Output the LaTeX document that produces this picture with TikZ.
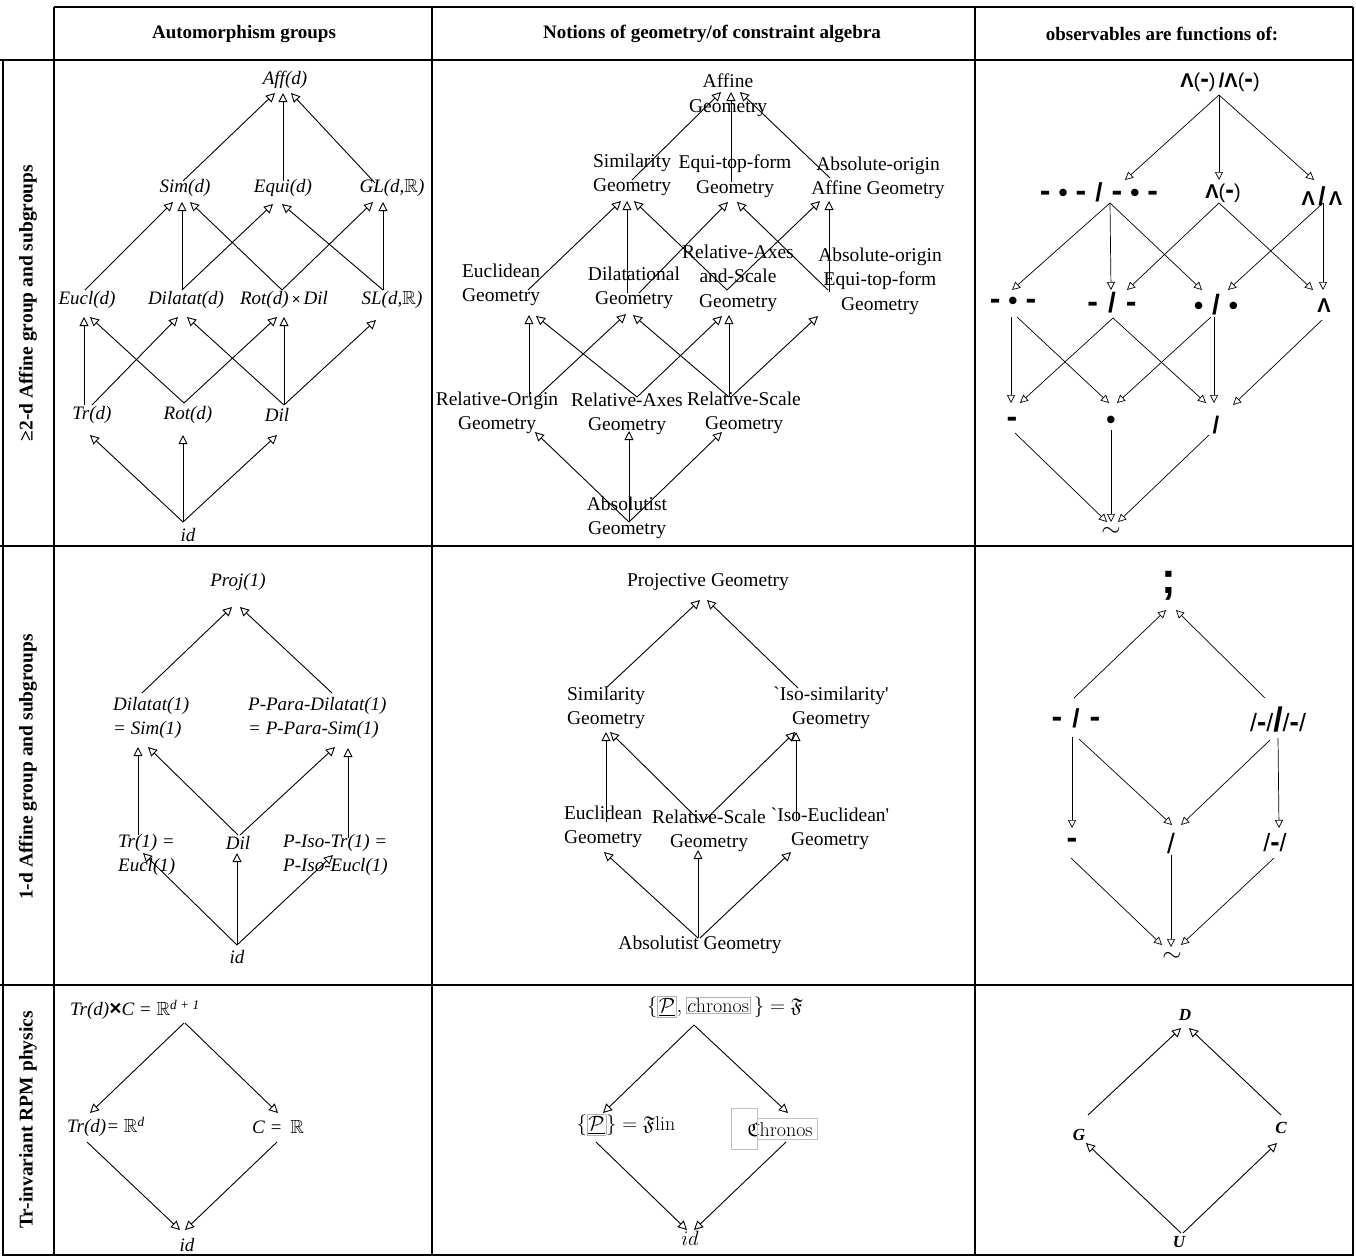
\documentclass[tikz,border=0pt]{standalone}
\usepackage{amssymb}
\usepackage{fontspec}
\setmainfont{Liberation Serif}
\newfontfamily\obsf{Liberation Sans}
\usetikzlibrary{arrows.meta}
\newcommand\ed[5][arr]{\draw[#1] ([shift={(#3)}]#2) -- ([shift={(#5)}]#4);}
\newcommand\lmfont{\fontfamily{lmr}\selectfont}
\newcommand\gbox[1]{{\setlength\fboxsep{1pt}\setlength\fboxrule{0.5pt}\fcolorbox{black!30}{white}{#1}}}
\newcommand\og[1][8]{\hspace{#1pt}}
\newcommand\bsl[1]{{\fontsize{#1}{#1}\selectfont/}}
\newcommand\hy[1][32]{{\fontsize{#1}{#1}\selectfont -}}
\newcommand\bu{{\fontsize{26}{26}\selectfont •}}
\begin{document}
\begin{tikzpicture}[x=1pt,y=-1pt,
  bord/.style={line width=2pt},
  arr/.style={-{Triangle[open,length=9pt,width=9pt]},line width=0.9pt},
  arrs/.style={-{Triangle[open,length=8pt,width=8pt]},line width=0.7pt},
  lab/.style={inner sep=0pt,font=\fontsize{19.5}{24.5}\selectfont,align=center},
  it/.style={inner sep=0pt,font=\itshape\fontsize{19}{24}\selectfont,align=center},
  itl/.style={it,anchor=west,align=left},
  ob/.style={inner sep=0pt,font=\obsf\bfseries\fontsize{20}{24}\selectfont},
  hdr/.style={inner sep=0pt,font=\bfseries\fontsize{19}{22}\selectfont},
  side/.style={inner sep=0pt,rotate=90,font=\bfseries\fontsize{19.5}{22}\selectfont},
  lm/.style={inner sep=0pt,font=\lmfont\fontsize{20}{24}\selectfont},
  gcu/.style={inner sep=0pt,font=\bfseries\itshape\fontsize{17}{20}\selectfont},
  tl/.style={inner sep=0pt,font=\fontsize{24}{24}\selectfont}]
\useasboundingbox (0,0) rectangle (1356,1258);
% ---------- table grid ----------
\draw[bord] (54,7) -- (1353,7);
\draw[bord] (0,60) -- (1353,60);
\draw[bord] (0,546) -- (1353,546);
\draw[bord] (0,985) -- (1353,985);
\draw[bord] (3,1255) -- (1353,1255);
\draw[bord] (3,60) -- (3,1256);
\draw[bord] (54,7) -- (54,1256);
\draw[bord] (432,7) -- (432,1256);
\draw[bord] (975,7) -- (975,1256);
\draw[bord] (1353,7) -- (1353,1256);
% ---------- headers ----------
\node[hdr] (h1) at (244,34) {Automorphism groups};
\node[hdr] (h2) at (712,34) {Notions of geometry/of constraint algebra};
\node[hdr] (h3) at (1162,34) {observables are functions of:};
\node[side] (r1) at (28,303) {≥2-d Affine group and subgroups};
\node[side] (r2) at (28,767) {1-d Affine group and subgroups};
\node[side] (r3) at (28,1120) {Tr-invariant RPM physics};
% ---------- row 1, column 1 ----------
\node[it] (aff) at (285,80) {Aff(d)};
\node[it] (sim) at (185,188) {Sim(d)};
\node[it] (equi) at (283,188) {Equi(d)};
\node[it] (gl) at (392,188) {GL(d,$\mathbb{R}$)};
\node[it] (eucl) at (87,300) {Eucl(d)};
\node[it] (dila) at (186,300) {Dilatat(d)};
\node[it] (rotdil) at (284,300) {Rot(d)\,{\obsf\upshape\fontsize{15}{15}\selectfont ×}\,Dil};
\node[it] (sl) at (392,300) {SL(d,$\mathbb{R}$)};
\node[it] (tr) at (92,415) {Tr(d)};
\node[it] (rot) at (188,415) {Rot(d)};
\node[it] (dil) at (277,415) {Dil};
\node[it] (id) at (188,535) {id};
\ed{sim.center}{-2,-7}{aff.center}{-10,13}
\ed{equi.center}{0,-7}{aff.center}{-2,13}
\ed{gl.center}{-17,-5}{aff.center}{6,13}
\ed{eucl.center}{-2,-10}{sim.center}{-12,14}
\ed{dila.center}{-4,-10}{sim.center}{-3,14}
\ed{rotdil.center}{-2,-10}{sim.center}{5,14}
\ed{dila.center}{-4,-10}{equi.center}{-10,16}
\ed{rotdil.center}{-2,-10}{gl.center}{-19,14}
\ed{sl.center}{-9,-10}{equi.center}{-1,16}
\ed{sl.center}{-9,-10}{gl.center}{-9,14}
\ed{tr.center}{-8,-10}{eucl.center}{-3,17}
\ed{tr.center}{0,-10}{dila.center}{-8,17}
\ed{rot.center}{-4,-12}{eucl.center}{3,17}
\ed{rot.center}{-4,-12}{rotdil.center}{-7,17}
\ed{dil.center}{7,-10}{dila.center}{1,17}
\ed{dil.center}{7,-10}{rotdil.center}{0,17}
\ed{dil.center}{7,-10}{sl.center}{-16,20}
\ed{id.center}{-5,-13}{tr.center}{-2,20}
\ed{id.center}{-5,-13}{rot.center}{-5,20}
\ed{id.center}{-5,-13}{dil.center}{0,20}
% ---------- row 1, column 2 ----------
\node[lab] (affG) at (728,95) {Affine\\Geometry};
\node[lab] (simG) at (632,175) {Similarity\\Geometry};
\node[lab] (equiG) at (735,176) {Equi-top-form\\Geometry};
\node[lab] (aaG) at (878,178) {Absolute-origin\\Affine Geometry};
\node[lab] (euG) at (501,285) {Euclidean\\Geometry};
\node[lab] (diG) at (634,288) {Dilatational\\Geometry};
\node[lab] (rasG) at (738,278) {Relative-Axes\\and-Scale\\Geometry};
\node[lab] (aeG) at (880,281) {Absolute-origin\\Equi-top-form\\Geometry};
\node[lab] (roG) at (497,413) {Relative-Origin\\Geometry};
\node[lab] (raG) at (627,414) {Relative-Axes\\Geometry};
\node[lab] (rsG) at (744,413) {Relative-Scale\\Geometry};
\node[lab] (abG) at (627,518) {Absolutist\\Geometry};
\ed{simG.center}{0,5}{affG.center}{-7,-3}
\ed{equiG.center}{-4,6}{affG.center}{3,-3}
\ed{aaG.center}{-48,0}{affG.center}{12,-3}
\ed{euG.center}{27,5}{simG.center}{-11,26}
\ed{diG.center}{-7,5}{simG.center}{-5,26}
\ed{rasG.center}{-11,12}{simG.center}{2,26}
\ed{diG.center}{5,5}{equiG.center}{-7,26}
\ed{aeG.center}{-52,9}{equiG.center}{2,26}
\ed{rasG.center}{-11,12}{aaG.center}{-58,23}
\ed{aeG.center}{-51,11}{aaG.center}{-49,23}
\ed{roG.center}{32,-16}{euG.center}{28,30}
\ed{roG.center}{40,-16}{diG.center}{-8,26}
\ed{raG.center}{10,-17}{euG.center}{35,31}
\ed{raG.center}{10,-17}{rasG.center}{-16,38}
\ed{rsG.center}{-15,-16}{diG.center}{-1,27}
\ed{rsG.center}{-15,-16}{rasG.center}{-9,37}
\ed{rsG.center}{-13,-16}{aeG.center}{-62,35}
\ed{abG.center}{2,4}{roG.center}{38,19}
\ed{abG.center}{2,4}{raG.center}{2,17}
\ed{abG.center}{2,4}{rsG.center}{-22,19}
% ---------- row 1, column 3 ----------
\node[ob] (o1) at (1220,82) {Λ{\mdseries(}\hy[26]{\mdseries)}\,/Λ{\mdseries(}\hy[26]{\mdseries)}};
\node[ob] (o2a) at (1099,192) {\hy\og\bu\og\hy\og[9]\bsl{26}\og[9]\hy\og\bu\og\hy};
\node[ob] (o2b) at (1223,193) {Λ{\mdseries(}\hy[26]{\mdseries)}};
\node[ob] (o2c) at (1322,196) {Λ\,\bsl{26}\,Λ};
\node[ob] (o3a) at (1013,303) {\hy\og\bu\og\hy};
\node[ob] (o3b) at (1112,303) {\hy\og[10]\bsl{28}\og[10]\hy};
\node[ob] (o3c) at (1216,305) {\bu\og[9]\bsl{28}\og[9]\bu};
\node[ob] (o3d) at (1324,306) {Λ};
\node[ob] (o4a) at (1012,422) {\hy};
\node[ob] (o4b) at (1111,422) {\bu};
\node[ob] (o4c) at (1216,425) {\bsl{24}};
\node[tl] (o5) at (1111,532) {$\sim$};
\ed[arrs]{o1.center}{-1,13}{o2a.center}{26,-12}
\ed[arrs]{o1.center}{-1,13}{o2b.center}{-4,-13}
\ed[arrs]{o1.center}{-1,13}{o2c.center}{-8,-16}
\ed[arrs]{o2a.center}{11,11}{o3a.center}{-1,-13}
\ed[arrs]{o2a.center}{11,11}{o3b.center}{-1,-13}
\ed[arrs]{o2a.center}{11,11}{o3c.center}{-14,-15}
\ed[arrs]{o2b.center}{-4,10}{o3b.center}{15,-13}
\ed[arrs]{o2b.center}{-4,10}{o3d.center}{-11,-16}
\ed[arrs]{o2c.center}{1,7}{o3c.center}{12,-15}
\ed[arrs]{o2c.center}{1,7}{o3d.center}{-1,-16}
\ed[arrs]{o3a.center}{-2,14}{o4a.center}{-1,-19}
\ed[arrs]{o3a.center}{4,14}{o4b.center}{-2,-19}
\ed[arrs]{o3b.center}{1,15}{o4a.center}{8,-19}
\ed[arrs]{o3b.center}{1,15}{o4c.center}{-10,-22}
\ed[arrs]{o3c.center}{-5,12}{o4b.center}{6,-19}
\ed[arrs]{o3c.center}{-2,12}{o4c.center}{-2,-22}
\ed[arrs]{o3d.center}{-2,14}{o4c.center}{17,-20}
\ed[arrs]{o4a.center}{3,11}{o5.center}{-4,-10}
\ed[arrs]{o4b.center}{0,8}{o5.center}{0,-10}
\ed[arrs]{o4c.center}{-7,10}{o5.center}{7,-10}
% ---------- row 2, column 1 ----------
\node[it] (proj) at (238,582) {Proj(1)};
\node[itl] (dila1) at (113,718) {Dilatat(1)\\= Sim(1)};
\node[itl] (ppd) at (248,718) {P-Para-Dilatat(1)\\= P-Para-Sim(1)};
\node[itl] (tr1) at (118,855) {Tr(1) =\\Eucl(1)};
\node[it] (dil1) at (238,843) {Dil};
\node[itl] (piso) at (283,855) {P-Iso-Tr(1) =\\P-Iso-Eucl(1)};
\node[it] (id1) at (237,957) {id};
\ed{dila1.west}{29,-25}{proj.center}{-6,25}
\ed{ppd.west}{84,-25}{proj.center}{2,25}
\ed{tr1.west}{20,-20}{dila1.west}{25,29}
\ed{dil1.center}{0,-8}{dila1.west}{35,29}
\ed{dil1.center}{2,-8}{ppd.west}{87,29}
\ed{piso.west}{65,-17}{ppd.west}{100,30}
\ed{id1.center}{0,-12}{tr1.west}{25,-2}
\ed{id1.center}{0,-12}{dil1.center}{-1,10}
\ed{id1.center}{0,-12}{piso.west}{50,0}
% ---------- row 2, column 2 ----------
\node[lab] (projG) at (708,582) {Projective Geometry};
\node[lab] (simG2) at (606,708) {Similarity\\Geometry};
\node[lab] (isG) at (831,708) {\textasciigrave Iso-similarity\textquotesingle\\Geometry};
\node[lab] (euG2) at (603,827) {Euclidean\\Geometry};
\node[lab] (rsG2) at (709,831) {Relative-Scale\\Geometry};
\node[lab] (ieG) at (830,829) {\textasciigrave Iso-Euclidean\textquotesingle\\Geometry};
\node[lab] (abG2) at (700,945) {Absolutist Geometry};
\ed{simG2.center}{0,-20}{projG.center}{-8,18}
\ed{isG.center}{-33,-20}{projG.center}{-1,18}
\ed{euG2.center}{3,-5}{simG2.center}{0,24}
\ed{rsG2.center}{-8,-9}{simG2.center}{4,24}
\ed{rsG2.center}{-6,-9}{isG.center}{-36,24}
\ed{ieG.center}{-34,-9}{isG.center}{-35,24}
\ed{abG2.center}{-2,-7}{euG2.center}{1,25}
\ed{abG2.center}{-2,-7}{rsG2.center}{-11,19}
\ed{abG2.center}{0,-7}{ieG.center}{-39,23}
% ---------- row 2, column 3 ----------
\node[ob,font=\obsf\bfseries\fontsize{44}{44}\selectfont] (semi) at (1169,586) {;};
\node[ob] (mslm) at (1076,718) {\hy\og[10]\bsl{26}\og[10]\hy};
\node[ob] (big) at (1278,720) {{\mdseries\bsl{25}}\hy[28]{\mdseries\bsl{25}}\bsl{34}{\mdseries\bsl{25}}\hy[28]{\mdseries\bsl{25}}};
\node[ob] (m1) at (1072,843) {\hy};
\node[ob] (s1) at (1171,843) {{\mdseries\bsl{28}}};
\node[ob] (sms) at (1275,843) {{\mdseries\bsl{25}}\hy[28]{\mdseries\bsl{25}}};
\node[tl] (til2) at (1172,957) {$\sim$};
\ed[arrs]{mslm.center}{-2,-20}{semi.center}{-3,24}
\ed[arrs]{big.center}{-13,-22}{semi.center}{7,24}
\ed[arrs]{mslm.center}{-4,19}{m1.center}{0,-15}
\ed[arrs]{mslm.center}{3,21}{s1.center}{1,-18}
\ed[arrs]{big.center}{-8,20}{s1.center}{10,-18}
\ed[arrs]{big.center}{0,18}{sms.center}{4,-15}
\ed[arrs]{m1.center}{-1,15}{til2.center}{-10,-12}
\ed[arrs]{s1.center}{0,12}{til2.center}{-1,-10}
\ed[arrs]{sms.center}{-1,15}{til2.center}{9,-12}
% ---------- row 3, column 1 ----------
\node[itl] (top3) at (70,1010) {Tr(d){\obsf\upshape\bfseries\fontsize{21}{21}\selectfont ×}C = $\mathbb{R}$\textsuperscript{d + 1}};
\node[itl] (trd) at (67,1127) {Tr(d)= $\mathbb{R}$\textsuperscript{d}};
\node[itl] (cr) at (252,1127) {C = \,$\mathbb{R}$};
\node[it] (id3) at (187,1245) {id};
\ed{top3.west}{114,13}{trd.west}{23,-14}
\ed{top3.west}{115,13}{cr.west}{26,-14}
\ed{trd.west}{20,15}{id3.center}{-7,-15}
\ed{cr.west}{25,15}{id3.center}{-2,-15}
% ---------- row 3, column 2 ----------
\node[lm] (f) at (725,1007) {$\{\gbox{$\underline{\mathcal{P}}$},\gbox{$c$hronos}\,\} = \mathfrak{F}$};
\node[lm] (flin) at (626,1125) {$\{\gbox{$\underline{\mathcal{P}}$}\} = \mathfrak{F}$lin};
\node[lm] (chr) at (780,1130) {$\mathfrak{C}$hronos};
\draw[black!25,line width=0.5pt] ([shift={(-49,-22)}]chr.center) rectangle ([shift={(-23,19)}]chr.center);
\draw[black!25,line width=0.5pt] ([shift={(-23,-12)}]chr.center) rectangle ([shift={(37,9)}]chr.center);
\node[lm] (id4) at (690,1238) {$id$};
\ed{f.center}{-31,18}{flin.center}{-23,-12}
\ed{f.center}{-31,18}{chr.center}{8,-17}
\ed{flin.center}{-30,17}{id4.center}{-3,-8}
\ed{chr.center}{6,12}{id4.center}{4,-8}
% ---------- row 3, column 3 ----------
\node[gcu] (D) at (1185,1015) {D};
\node[gcu] (G) at (1079,1135) {G};
\node[gcu] (C) at (1281,1128) {C};
\node[gcu] (U) at (1179,1242) {U};
\ed{G.center}{9,-20}{D.center}{-4,13}
\ed{C.center}{0,-13}{D.center}{4,13}
\ed{U.center}{2,-9}{G.center}{7,8}
\ed{U.center}{4,-9}{C.center}{-4,15}
\end{tikzpicture}
\end{document}
